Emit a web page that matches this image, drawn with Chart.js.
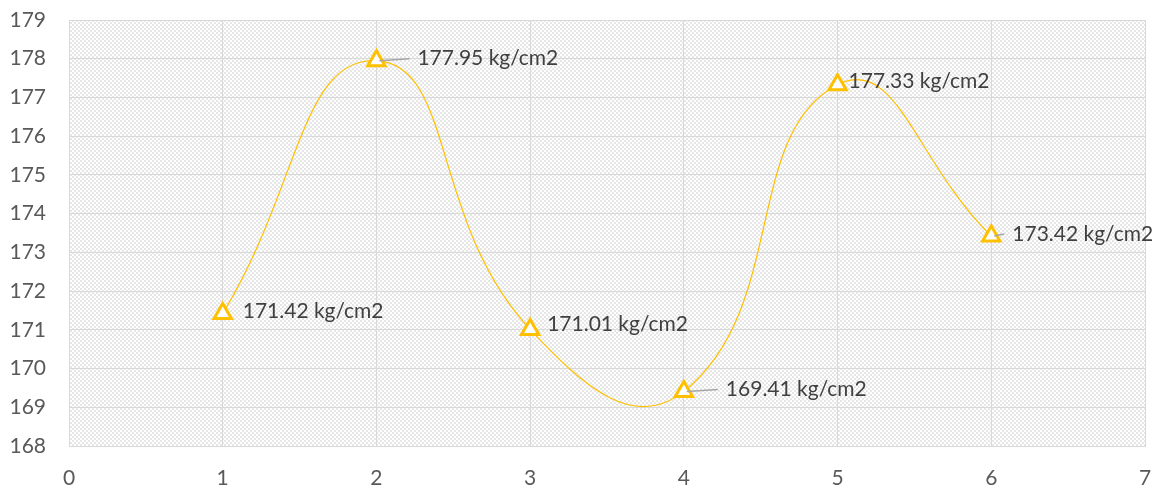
<!DOCTYPE html>
<html>
<head>
<meta charset="utf-8">
<script src="https://cdn.jsdelivr.net/npm/chart.js@4/dist/chart.umd.min.js"></script>
<style>
    html, body { margin: 0; padding: 0; background: #fff; }
    #wrap { width: 1166px; height: 488px; }
</style>
</head>
<body>
<div id="wrap"><canvas id="chart" width="1166" height="488"></canvas></div>
<script>
// Donnees du graphique
const xValues = [1, 2, 3, 4, 5, 6];
const yValues = [171.42, 177.95, 171.01, 169.41, 177.33, 173.42];
const unitLabel = 'kg/cm2';
const yTicks = [168, 169, 170, 171, 172, 173, 174, 175, 176, 177, 178, 179];
const xTicks = [0, 1, 2, 3, 4, 5, 6, 7];

const FONT = 'Lato, "Open Sans", sans-serif';

// motif hachure (fond de la zone de trace)
function makeHatch() {
    const c = document.createElement('canvas');
    c.width = 8; c.height = 8;
    const g = c.getContext('2d');
    g.fillStyle = '#ffffff';
    g.fillRect(0, 0, 8, 8);
    g.fillStyle = '#e6e6e6';
    for (let i = 0; i < 8; i += 2) {
        g.fillRect(i, i, 2, 2);
        g.fillRect((i + 4) % 8, i, 2, 2);
    }
    return c;
}

const hatchPlugin = {
    id: 'hatch',
    beforeDraw(chart) {
        const a = chart.chartArea;
        const ctx = chart.ctx;
        ctx.save();
        ctx.fillStyle = ctx.createPattern(makeHatch(), 'repeat');
        ctx.fillRect(a.left, a.top, a.right - a.left, a.bottom - a.top);
        ctx.restore();
    }
};

// etiquettes avec ligne de rappel
const labelOffsets = [[20, -2], [41, -2], [17, -5], [42, -2], [11, -3], [21, -2]];
const labelPlugin = {
    id: 'pointLabels',
    afterDatasetsDraw(chart) {
        const ctx = chart.ctx;
        const meta = chart.getDatasetMeta(0);
        ctx.save();
        ctx.font = '21px ' + FONT;
        ctx.textBaseline = 'middle';
        meta.data.forEach(function(pt, i) {
            const off = labelOffsets[i];
            const tx = pt.x + off[0];
            const ty = pt.y + off[1];
            if (off[0] > 20) {
                ctx.strokeStyle = '#a6a6a6';
                ctx.lineWidth = 1.5;
                ctx.beginPath();
                ctx.moveTo(pt.x + 3, pt.y);
                ctx.lineTo(tx - 8, ty);
                ctx.stroke();
            }
            ctx.fillStyle = '#404040';
            ctx.fillText(yValues[i].toFixed(2) + ' ' + unitLabel, tx, ty);
        });
        ctx.restore();
    }
};

new Chart(document.getElementById('chart'), {
    type: 'scatter',
    data: {
        datasets: [{
            data: xValues.map((x, i) => ({ x: x, y: yValues[i] })),
            showLine: true,
            borderColor: '#FFC000',
            borderWidth: 1.2,
            tension: 0.5,
            pointStyle: 'triangle',
            pointRadius: 10,
            pointBorderWidth: 3,
            pointBackgroundColor: '#ffffff',
            pointBorderColor: '#FFC000'
        }]
    },
    options: {
        responsive: false,
        animation: false,
        layout: { padding: { left: 0, right: 21, top: 20, bottom: 0 } },
        plugins: { legend: { display: false }, tooltip: { enabled: false } },
        scales: {
            x: {
                type: 'linear',
                min: xTicks[0],
                max: xTicks[xTicks.length - 1],
                afterBuildTicks(axis) { axis.ticks = xTicks.map(v => ({ value: v })); },
                afterFit(axis) { axis.height = 42; axis.paddingLeft = 0; axis.paddingRight = 0; },
                grid: { color: '#d9d9d9', lineWidth: 1, drawTicks: false },
                border: { color: '#d9d9d9' },
                ticks: { color: '#595959', font: { size: 21, family: FONT }, padding: 20 }
            },
            y: {
                min: yTicks[0],
                max: yTicks[yTicks.length - 1],
                afterBuildTicks(axis) { axis.ticks = yTicks.map(v => ({ value: v })); },
                afterFit(axis) { axis.width = 69; axis.paddingTop = 0; axis.paddingBottom = 0; },
                grid: { color: '#d9d9d9', lineWidth: 1, drawTicks: false },
                border: { color: '#d9d9d9' },
                ticks: { color: '#595959', font: { size: 21, family: FONT }, padding: 23 }
            }
        }
    },
    plugins: [hatchPlugin, labelPlugin]
});
</script>
</body>
</html>
